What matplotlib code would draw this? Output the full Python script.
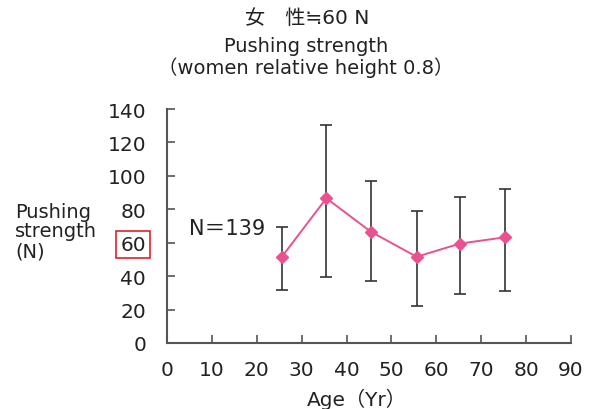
import matplotlib
matplotlib.use("Agg")
import matplotlib.pyplot as plt
import numpy as np

plt.rcParams['font.family'] = ['DejaVu Sans', 'Noto Sans CJK JP']

# Data
ages = [25.6, 35.5, 45.4, 55.6, 65.3, 75.2]
means = [51.6, 86.6, 66.6, 51.6, 59.5, 63.2]
lower = [31.7, 39.3, 36.9, 22.0, 29.5, 31.1]
upper = [69.2, 130.6, 96.8, 78.8, 87.2, 92.2]
xticks = [0, 10, 20, 30, 40, 50, 60, 70, 80, 90]
yticks = [0, 20, 40, 60, 80, 100, 120, 140]

title1 = "女\u3000性≒60 N"
title2 = "Pushing strength"
title3 = "（women relative height 0.8）"
ylabel = "Pushing\nstrength\n(N)"
xlabel = "Age（Yr）"
note = "N＝139"

fig = plt.figure(figsize=(5.94, 4.10), dpi=100)
ax = fig.add_axes([167/594, 1-344/410, (571-167)/594, (344-110)/410])

m = np.array(means)
yerr = np.array([m - np.array(lower), np.array(upper) - m])
ax.errorbar(ages, means, yerr=yerr, fmt='none', ecolor='#333333', elinewidth=1.2,
            capsize=4.3, capthick=1.2, zorder=2)
ax.plot(ages, means, color='#E9528E', lw=1.4, marker='D', markersize=6.5,
        markerfacecolor='#E9528E', markeredgecolor='#E9528E', zorder=3)

ax.set_xlim(0, 90)
ax.set_ylim(0, 140)
ax.set_xticks(xticks)
ax.set_yticks(yticks)
for s in ['top', 'right']:
    ax.spines[s].set_visible(False)
for s in ['left', 'bottom']:
    ax.spines[s].set_color('#555555')
    ax.spines[s].set_linewidth(1.5)
ax.tick_params(axis='both', direction='in', length=6, width=1.2, color='#555555',
               labelsize=14.5, labelcolor='#222222')
ax.tick_params(axis='y', pad=15)
ax.tick_params(axis='x', pad=12)

for lab in ax.get_yticklabels():
    if lab.get_text() == '60':
        lab.set_bbox(dict(facecolor='none', edgecolor='#E0202A', linewidth=1.2, pad=3))

ax.text(5, 69, note, fontsize=15, color='#222222', ha='left', va='center')

fig.text(307/594, 1-18/410, title1, fontsize=14.5, ha='center', va='center', color='#222222')
fig.text(306/594, 1-47/410, title2, fontsize=14, ha='center', va='center', color='#222222')
fig.text(306/594, 1-68/410, title3, fontsize=14, ha='center', va='center', color='#222222')
fig.text(15/594, 1-232/410, ylabel, fontsize=14, ha='left', va='center', color='#222222',
         linespacing=1.05)
fig.text(357/594, 1-399/410, xlabel, fontsize=14.5, ha='center', va='center', color='#222222')

fig.savefig('out.png', dpi=100)
